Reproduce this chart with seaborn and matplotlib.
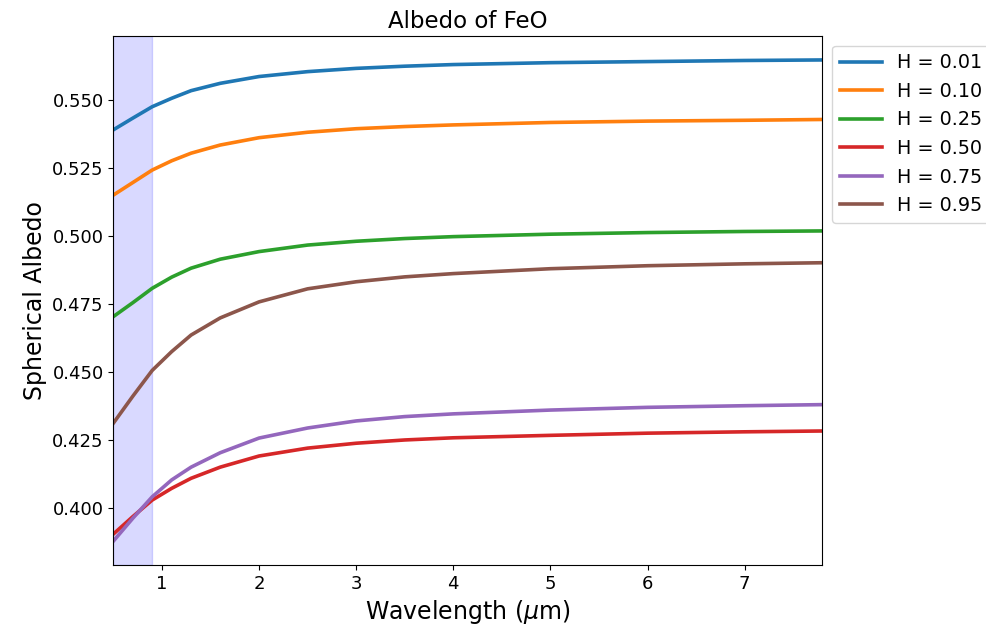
import numpy as np
import pandas as pd
import matplotlib
matplotlib.use("Agg")
import matplotlib.pyplot as plt
import seaborn as sns

wavelength = [0.5, 0.7, 0.9, 1.1, 1.3, 1.6, 2.0, 2.5, 3.0, 3.5, 4.0, 5.0, 6.0, 7.0, 7.8]
h_labels = ["H = 0.01", "H = 0.10", "H = 0.25", "H = 0.50", "H = 0.75", "H = 0.95"]
alb_001 = [0.5390, 0.5433, 0.5475, 0.5506, 0.5534, 0.5561, 0.5586, 0.5604, 0.5616, 0.5624, 0.5630, 0.5637, 0.5641, 0.5645, 0.5647]
alb_010 = [0.5150, 0.5196, 0.5242, 0.5276, 0.5304, 0.5334, 0.5361, 0.5381, 0.5394, 0.5402, 0.5408, 0.5417, 0.5422, 0.5425, 0.5428]
alb_025 = [0.4703, 0.4754, 0.4807, 0.4848, 0.4881, 0.4914, 0.4942, 0.4966, 0.4980, 0.4990, 0.4997, 0.5006, 0.5012, 0.5016, 0.5018]
alb_050 = [0.3903, 0.3967, 0.4028, 0.4071, 0.4108, 0.4149, 0.4190, 0.4219, 0.4237, 0.4249, 0.4257, 0.4266, 0.4274, 0.4279, 0.4282]
alb_075 = [0.3877, 0.3961, 0.4040, 0.4102, 0.4149, 0.4202, 0.4256, 0.4293, 0.4319, 0.4335, 0.4345, 0.4359, 0.4369, 0.4375, 0.4379]
alb_095 = [0.4311, 0.4410, 0.4505, 0.4574, 0.4635, 0.4698, 0.4757, 0.4805, 0.4831, 0.4849, 0.4861, 0.4879, 0.4890, 0.4897, 0.4901]

series = [alb_001, alb_010, alb_025, alb_050, alb_075, alb_095]
df = pd.concat([pd.DataFrame({"Wavelength": wavelength, "Albedo": s, "H": lab})
                for s, lab in zip(series, h_labels)], ignore_index=True)

fig, ax = plt.subplots(figsize=(9.86, 6.32), dpi=100)
ax.axvspan(0.5, 0.9, color="b", alpha=0.15)
palette = ["#1f77b4", "#ff7f0e", "#2ca02c", "#d62728", "#9467bd", "#8c564b"]
sns.lineplot(data=df, x="Wavelength", y="Albedo", hue="H", palette=palette,
             linewidth=2.6, ax=ax)
ax.set_xlim(0.5, 7.8)
ax.set_ylim(0.3789, 0.5735)
ax.set_yticks([0.400, 0.425, 0.450, 0.475, 0.500, 0.525, 0.550])
ax.set_yticklabels(["0.400", "0.425", "0.450", "0.475", "0.500", "0.525", "0.550"])
ax.tick_params(labelsize=13)
ax.set_xlabel(r"Wavelength ($\mu$m)", fontsize=17)
ax.set_ylabel("Spherical Albedo", fontsize=17)
ax.set_title("Albedo of FeO", fontsize=16.5)
ax.legend(loc="upper left", bbox_to_anchor=(1.0, 1.0), fontsize=13.8, handlelength=2.2)
fig.subplots_adjust(left=0.115, right=0.834, top=0.943, bottom=0.106)
fig.savefig("out.png", dpi=100)
